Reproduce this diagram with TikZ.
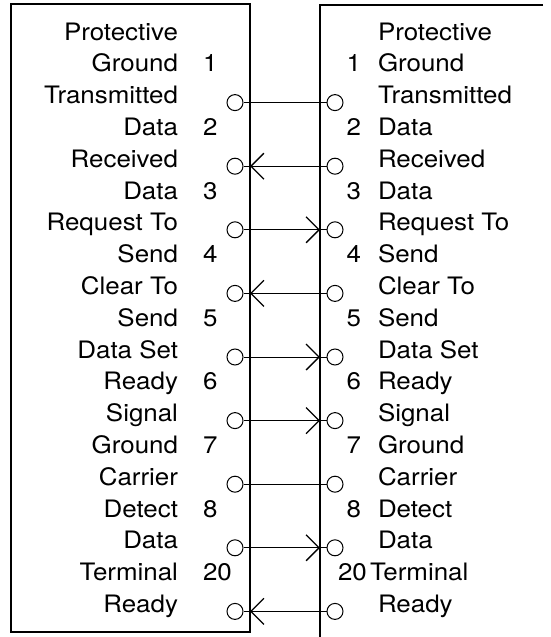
\documentclass[tikz,border=0pt]{standalone}
\usepackage{fontspec}
\setmainfont{TeX Gyre Heros}[FakeStretch=1.08]
\usetikzlibrary{arrows.meta}
\begin{document}
\begin{tikzpicture}[x=1pt,y=-1pt,
  lbl/.style={font=\fontsize{24}{24}\selectfont, inner sep=0pt, outer sep=0pt},
  pin/.style={circle, draw, line width=1pt, minimum size=16pt, inner sep=0pt},
  wire/.style={line width=1pt},
  barb/.style={wire, -{Straight Barb[length=13pt,width=26pt,line width=1.3pt]}},
  box/.style={line width=1.5pt}]
\useasboundingbox (0,0) rectangle (551,637);
% boxes
\draw[box] (11,4) rectangle (250,632);
\draw[box] (543,5) -- (320,5) -- (320,637);
% left labels
\foreach \i/\t in {0/Protective,1/Ground,2/Transmitted,3/Data,4/Received,5/Data,6/Request To,7/Send,8/Clear To,9/Send,10/Data Set,11/Ready,12/Signal,13/Ground,14/Carrier,15/Detect,16/Data,17/Terminal,18/Ready}
  \node[lbl, anchor=base east] (lt\i) at (178,{40+31.8*\i}) {\t};
% right labels
\foreach \i/\t in {0/Protective,1/Ground,2/Transmitted,3/Data,4/Received,5/Data,6/Request To,7/Send,8/Clear To,9/Send,10/Data Set,11/Ready,12/Signal,13/Ground,14/Carrier,15/Detect,16/Data,18/Ready}
  \node[lbl, anchor=base west] (rt\i) at (378,{40+31.8*\i}) {\t};
\node[lbl, anchor=base west] (rt17) at (370,{40+31.8*17}) {Terminal};
% pin numbers
\foreach \i/\n in {1/1,3/2,5/3,7/4,9/5,11/6,13/7,15/8,17/20}
  \node[lbl, anchor=base west] (ln\i) at (203,{40+31.8*\i}) {\n};
\foreach \i/\n in {1/1,3/2,5/3,7/4,9/5,11/6,13/7,15/8}
  \node[lbl, anchor=base east] (rn\i) at (361,{40+31.8*\i}) {\n};
\node[lbl, anchor=base west] (rn17) at (338,{40+31.8*17}) {20};
% pins and wires
\foreach \r in {2,4,6,8,10,12,14,16,18} {
  \node[pin] (lc\r) at (235,{40+31.8*\r-1}) {};
  \node[pin] (rc\r) at (335,{40+31.8*\r-1}) {};
  \coordinate (eL\r) at (250,{40+31.8*\r-1});
  \coordinate (eR\r) at (320,{40+31.8*\r-1});
}
% plain wires
\foreach \r in {2,14}
  \draw[wire] (lc\r) -- (rc\r);
% wires into the left connector
\foreach \r in {4,8,18} {
  \draw[barb] (rc\r) -- (eL\r);
  \draw[wire] (eL\r) -- (lc\r);
}
% wires into the right connector
\foreach \r in {6,10,12,16} {
  \draw[barb] (lc\r) -- (eR\r);
  \draw[wire] (eR\r) -- (rc\r);
}
\end{tikzpicture}
\end{document}
